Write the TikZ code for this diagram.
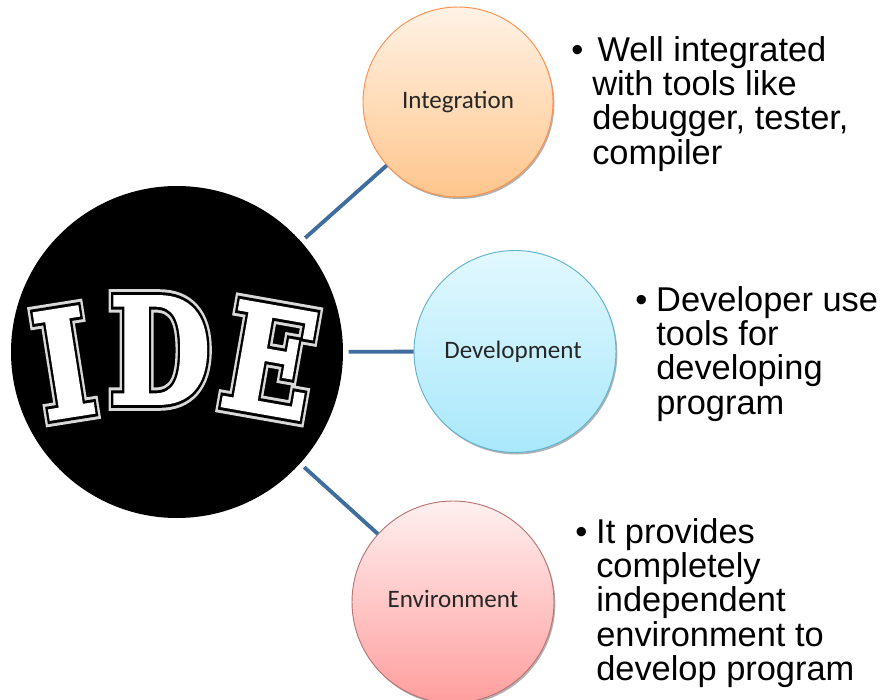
\documentclass[tikz,border=0pt]{standalone}
\usepackage{fontspec}
\usetikzlibrary{shadows}
\setmainfont{Liberation Sans}
\newfontfamily\lblfont{Carlito}
\newfontfamily\ltA[FakeBold=10]{DejaVu Serif Bold}
\newfontfamily\ltB[FakeBold=6]{DejaVu Serif Bold}
\newfontfamily\ltC[FakeBold=2]{DejaVu Serif Bold}
\definecolor{bluetop}{HTML}{E2F8FE}
\definecolor{bluebot}{HTML}{A9E8FB}
\definecolor{blueline}{HTML}{5FB3CE}
\definecolor{linecol}{HTML}{3F6E9E}
\tikzset{
  hub/.style={circle,fill=black,minimum size=249pt,inner sep=0pt},
  topic/.style={circle,inner sep=0pt,font=\lblfont\fontsize{18.8}{22}\selectfont,text=black!85,
    drop shadow={shadow xshift=1pt,shadow yshift=-1.5pt,opacity=.3,fill=black}},
  orange/.style={topic,minimum size=142.5pt,draw=orange!75!red!70,line width=.7pt,top color=orange!10!white,bottom color=orange!45!white},
  blue/.style={topic,minimum size=151.5pt,draw=blueline,line width=.7pt,top color=bluetop,bottom color=bluebot},
  red/.style={topic,minimum size=151.5pt,draw=red!50!black!55,line width=.7pt,top color=red!6!white,bottom color=red!38!white},
  conn/.style={line width=2.9pt,draw=linecol,shorten <=4pt},
  note/.style={anchor=north west,align=left,inner sep=0pt,font=\fontsize{25.8}{25.8}\selectfont,text=black},
  letter/.style={inner sep=0pt,xscale=.8,font=\fontsize{110}{110}\selectfont},
}
\begin{document}
\begin{tikzpicture}[x=.75pt,y=-.75pt]
\useasboundingbox[fill=white] (0,0) rectangle (883,700);
\node[hub] (main) at (177,352) {};
\node[orange] (int) at (458,102) {\raisebox{.3pt}{Integration}};
\node[blue] (dev) at (515,351.5) {\hspace{-3pt}Development};
\node[red] (env) at (453,602) {\raisebox{4.5pt}{Environment}};
\draw[conn] (main) -- (int);
\draw[conn] (main) -- (dev);
\draw[conn] (main) -- (env);
\foreach \f/\c in {\ltA/white!85!black,\ltB/black,\ltC/white}{
  \node[rotate=9,letter,text=\c] at (64,363) {\f I};
  \node[letter,text=\c] at (160,350) {\f D};
  \node[rotate=-10,letter,text=\c] at (270,360) {\f E};
}
\node[note] (n1) at (592,36) {\llap{•\hspace{6.7pt}}\hspace{4pt}Well integrated\\with tools like\\debugger, tester,\\compiler};
\node[note] (n2) at (656,286) {\llap{•\hspace{6.7pt}}Developer use\\tools for\\developing\\program};
\node[note] (n3) at (596,518) {\llap{•\hspace{6.7pt}}It provides\\completely\\independent\\environment to\\develop program};
\end{tikzpicture}
\end{document}
